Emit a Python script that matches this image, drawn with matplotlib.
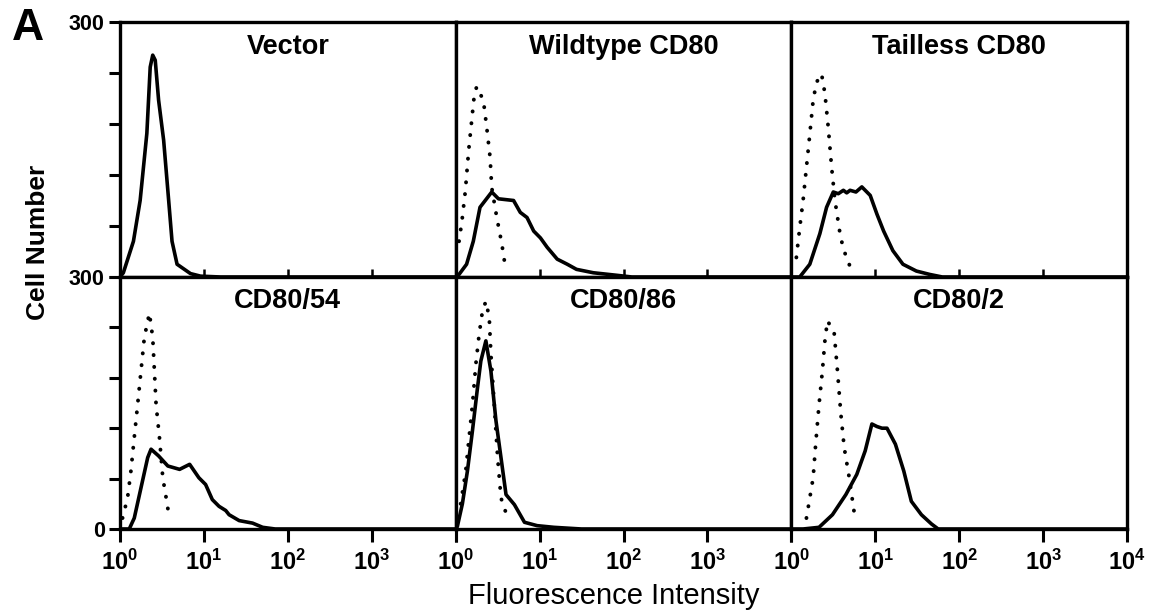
import matplotlib
matplotlib.use("Agg")
import matplotlib.pyplot as plt
import numpy as np

plt.rcParams['font.family'] = ['Liberation Sans', 'DejaVu Sans']
plt.rcParams['mathtext.fontset'] = 'custom'
plt.rcParams['mathtext.rm'] = 'Liberation Sans'
plt.rcParams['mathtext.bf'] = 'Liberation Sans:bold'

# ---- data: log10(fluorescence) positions and cell counts ----
titles = ["Vector", "Wildtype CD80", "Tailless CD80", "CD80/54", "CD80/86", "CD80/2"]

vector_solid_logx = [0.0, 0.04, 0.16, 0.24, 0.32, 0.36, 0.39, 0.42, 0.46, 0.52, 0.58, 0.62, 0.68, 0.84, 0.96, 1.2, 4.0]
vector_solid_y    = [0, 5, 42, 90, 169, 247, 261, 255, 208, 161, 90, 42, 15, 4, 1, 0, 0]

wt_dot_logx = [0.04, 0.075, 0.115, 0.155, 0.195, 0.22, 0.25, 0.33, 0.37, 0.41, 0.43, 0.49, 0.55, 0.59]
wt_dot_y    = [42, 66, 101, 149, 188, 212, 224, 208, 176, 141, 105, 70, 39, 13]
wt_solid_logx = [0.0, 0.04, 0.13, 0.21, 0.29, 0.43, 0.51, 0.69, 0.77, 0.85, 0.93, 1.01, 1.09, 1.21, 1.33, 1.44, 1.64, 1.92, 2.1, 4.0]
wt_solid_y    = [0, 3, 15, 42, 82, 100, 92, 90, 76, 70, 54, 46, 35, 21, 15, 9, 5, 2, 0, 0]

tl_dot_logx = [0.06, 0.10, 0.14, 0.18, 0.22, 0.26, 0.30, 0.36, 0.40, 0.44, 0.48, 0.52, 0.58, 0.62, 0.72]
tl_dot_y    = [23, 58, 90, 129, 168, 208, 229, 239, 216, 176, 129, 90, 51, 33, 7]
tl_solid_logx = [0.0, 0.10, 0.22, 0.34, 0.42, 0.50, 0.56, 0.62, 0.66, 0.70, 0.77, 0.84, 0.94, 1.02, 1.10, 1.21, 1.33, 1.49, 1.65, 1.8, 4.0]
tl_solid_y    = [0, 0, 15, 51, 82, 100, 98, 102, 99, 102, 100, 106, 96, 74, 54, 31, 15, 7, 3, 0, 0]

c54_dot_logx = [0.03, 0.09, 0.13, 0.17, 0.21, 0.25, 0.29, 0.35, 0.39, 0.41, 0.43, 0.47, 0.51, 0.55, 0.59]
c54_dot_y    = [13, 37, 69, 109, 148, 188, 228, 257, 228, 188, 148, 109, 61, 37, 12]
c54_solid_logx = [0.0, 0.11, 0.17, 0.25, 0.33, 0.37, 0.46, 0.57, 0.71, 0.83, 0.94, 1.02, 1.10, 1.18, 1.26, 1.30, 1.42, 1.58, 1.70, 1.85, 4.0]
c54_solid_y    = [0, 0, 13, 49, 85, 95, 87, 75, 71, 77, 61, 53, 35, 27, 22, 17, 10, 7, 2, 0, 0]

c86_dot_logx = [0.06, 0.12, 0.16, 0.20, 0.24, 0.28, 0.32, 0.36, 0.40, 0.42, 0.46, 0.50, 0.54, 0.62]
c86_dot_y    = [30, 69, 109, 148, 196, 232, 260, 271, 252, 208, 148, 85, 37, 13]
c86_solid_logx = [0.0, 0.02, 0.08, 0.14, 0.20, 0.26, 0.30, 0.36, 0.42, 0.48, 0.54, 0.60, 0.70, 0.82, 0.97, 1.17, 1.5, 4.0]
c86_solid_y    = [0, 3, 30, 69, 117, 168, 200, 224, 188, 129, 85, 41, 29, 8, 4, 2, 0, 0]

c2_dot_logx = [0.18, 0.22, 0.26, 0.29, 0.33, 0.37, 0.40, 0.43, 0.51, 0.55, 0.59, 0.63, 0.69, 0.73, 0.76]
c2_dot_y    = [13, 37, 61, 101, 148, 188, 224, 248, 234, 188, 137, 97, 61, 33, 12]
c2_solid_logx = [0.0, 0.14, 0.33, 0.49, 0.65, 0.78, 0.88, 0.96, 1.02, 1.08, 1.14, 1.24, 1.34, 1.43, 1.55, 1.67, 1.75, 4.0]
c2_solid_y    = [0, 0, 2, 17, 41, 65, 93, 125, 122, 120, 120, 101, 69, 33, 17, 6, 0, 0]

panels = [
    (vector_solid_logx, vector_solid_y, None, None),
    (wt_solid_logx, wt_solid_y, wt_dot_logx, wt_dot_y),
    (tl_solid_logx, tl_solid_y, tl_dot_logx, tl_dot_y),
    (c54_solid_logx, c54_solid_y, c54_dot_logx, c54_dot_y),
    (c86_solid_logx, c86_solid_y, c86_dot_logx, c86_dot_y),
    (c2_solid_logx, c2_solid_y, c2_dot_logx, c2_dot_y),
]

y_ticks = [0, 60, 120, 180, 240, 300]
x_ticks = [1, 10, 100, 1000, 10000]
x_ticklabels = [r'$\mathbf{10^{0}}$', r'$\mathbf{10^{1}}$', r'$\mathbf{10^{2}}$',
                r'$\mathbf{10^{3}}$', r'$\mathbf{10^{4}}$']

W, H = 1161, 616
fig = plt.figure(figsize=(W / 100, H / 100), dpi=100)

left_px, right_px = 120, 1127
top_px, mid_px, bot_px = 22, 277, 529
pw = (right_px - left_px) / 3

for i, (sx, sy, dx, dy) in enumerate(panels):
    r, c = divmod(i, 3)
    x0 = left_px + c * pw
    yt = top_px if r == 0 else mid_px
    yb = mid_px if r == 0 else bot_px
    ax = fig.add_axes([x0 / W, 1 - yb / H, pw / W, (yb - yt) / H])
    ax.set_xscale('log')
    ax.set_xlim(1, 1e4)
    ax.set_ylim(0, 300)
    if dx is not None:
        ax.plot(10 ** np.array(dx), dy, color='black', lw=2.8,
                linestyle=(0, (0.05, 3.0)), dash_capstyle='round')
    ax.plot(10 ** np.array(sx), sy, color='black', lw=2.6, solid_joinstyle='round')
    for s in ax.spines.values():
        s.set_linewidth(2.4)
    ax.text(0.5, 0.90 if r == 0 else 0.905, titles[i], transform=ax.transAxes,
            ha='center', va='center', fontsize=19.5, fontweight='bold')
    ax.minorticks_off()
    ax.set_xticks(x_ticks)
    if r == 0:
        ax.tick_params(axis='x', direction='in', length=6, width=1.8, labelbottom=False)
    else:
        ax.tick_params(axis='x', direction='out', length=9, width=2.2, pad=6)
        labels = list(x_ticklabels)
        if c < 2:
            labels[-1] = ''
        ax.set_xticklabels(labels, fontsize=17)
    ax.xaxis.set_minor_locator(matplotlib.ticker.NullLocator())
    if c == 0:
        ax.set_yticks(y_ticks)
        if r == 0:
            ylabs = ['', '', '', '', '', '300']
        else:
            ylabs = ['0', '', '', '', '', '300']
        ax.set_yticklabels(ylabs, fontsize=15.5, fontweight='bold')
        ax.tick_params(axis='y', direction='out', length=8, width=2.2, pad=3)
    else:
        ax.set_yticks([])

fig.text(38 / W, 1 - 242 / H, 'Cell Number', rotation=90, ha='center', va='center',
         fontsize=19, fontweight='bold')
fig.text(614 / W, 1 - 596 / H, 'Fluorescence Intensity', ha='center', va='center',
         fontsize=21)
fig.text(28 / W, 1 - 28 / H, 'A', ha='center', va='center', fontsize=32, fontweight='bold')

fig.savefig('out.png', dpi=100)
